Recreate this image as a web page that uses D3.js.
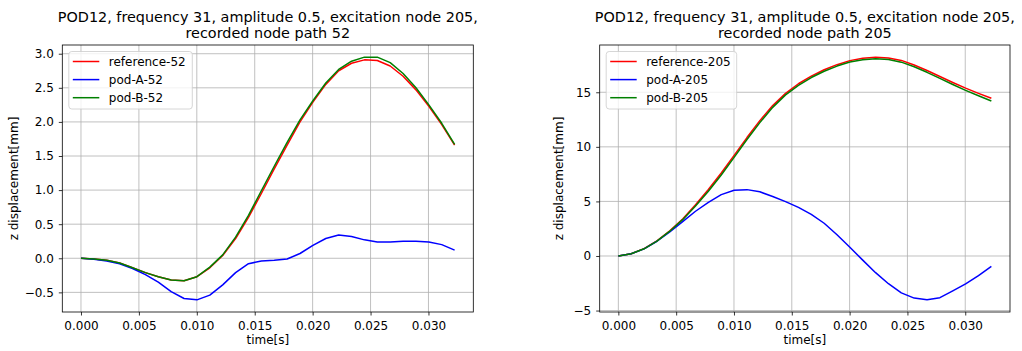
<!DOCTYPE html>
<html>
<head>
<meta charset="utf-8">
<script src="https://cdn.jsdelivr.net/npm/d3@7"></script>
<style>
  body { margin: 0; background: #fff; }
  svg { display: block; font-family: "DejaVu Sans", sans-serif; }
</style>
</head>
<body>
<div id="chart"></div>
<script>
// time samples (s)
var timeS = [0, 0.001112, 0.002225, 0.003337, 0.004449, 0.005562, 0.006674, 0.007786, 0.008899, 0.010011,
  0.011123, 0.012236, 0.013348, 0.014461, 0.015573, 0.016685, 0.017798, 0.018910, 0.020022, 0.021135,
  0.022247, 0.023359, 0.024472, 0.025584, 0.026696, 0.027809, 0.028921, 0.030033, 0.031146, 0.032258];

// node 52
var ref52 = [0, -0.01, -0.03, -0.07, -0.14, -0.21, -0.27, -0.32, -0.33, -0.27, -0.14, 0.04, 0.29, 0.60, 0.95, 1.31,
  1.66, 2.0, 2.29, 2.55, 2.75, 2.86, 2.91, 2.90, 2.82, 2.67, 2.47, 2.23, 1.96, 1.66];
var podA52 = [0, -0.015, -0.04, -0.08, -0.15, -0.24, -0.35, -0.49, -0.59, -0.61, -0.54, -0.39, -0.21, -0.08, -0.04,
  -0.03, -0.01, 0.07, 0.19, 0.29, 0.34, 0.32, 0.27, 0.24, 0.24, 0.25, 0.25, 0.24, 0.20, 0.12];
var podB52 = [0, -0.01, -0.03, -0.07, -0.14, -0.21, -0.27, -0.32, -0.33, -0.27, -0.13, 0.05, 0.31, 0.63, 0.99, 1.35,
  1.70, 2.03, 2.31, 2.57, 2.77, 2.89, 2.95, 2.95, 2.87, 2.71, 2.50, 2.25, 1.98, 1.67];

// node 205
var ref205 = [0, 0.2, 0.67, 1.38, 2.3, 3.38, 4.7, 6.1, 7.6, 9.22, 10.85, 12.4, 13.78, 14.9, 15.78, 16.48,
  17.06, 17.53, 17.9, 18.12, 18.22, 18.15, 17.92, 17.5, 17.0, 16.45, 15.9, 15.38, 14.9, 14.45];
var podA205 = [0, 0.2, 0.65, 1.35, 2.2, 3.15, 4.1, 4.92, 5.62, 6.02, 6.08, 5.88, 5.45, 4.98, 4.45, 3.82,
  3.0, 1.95, 0.8, -0.38, -1.53, -2.54, -3.38, -3.86, -4.02, -3.82, -3.2, -2.56, -1.8, -0.95];
var podB205 = [0, 0.2, 0.66, 1.36, 2.27, 3.33, 4.58, 5.94, 7.42, 9.04, 10.67, 12.22, 13.62, 14.76, 15.64, 16.35,
  16.93, 17.4, 17.77, 17.99, 18.08, 18.0, 17.76, 17.34, 16.83, 16.27, 15.71, 15.18, 14.68, 14.2];

var xTicks = [0, 0.005, 0.010, 0.015, 0.020, 0.025, 0.030];
var yTicks52 = [-0.5, 0, 0.5, 1.0, 1.5, 2.0, 2.5, 3.0];
var yTicks205 = [-5, 0, 5, 10, 15];

var W = 1022, H = 351;
var svg = d3.select("#chart").append("svg").attr("width", W).attr("height", H);

/* ---------------------------------------------------------------*/
function pad(ext) {
  var r = ext[1] - ext[0];
  return [ext[0] - 0.05 * r, ext[1] + 0.05 * r];
}

/* ---------------------------------------------------------------*/
function drawPanel(cfg) {
  var g = svg.append("g").attr("transform", "translate(" + cfg.left + "," + cfg.top + ")");
  var w = cfg.width, h = cfg.height;

  var all = [].concat(cfg.series[0].values, cfg.series[1].values, cfg.series[2].values);
  var x = d3.scaleLinear().domain(pad(d3.extent(timeS))).range([0, w]);
  var y = d3.scaleLinear().domain(pad(d3.extent(all))).range([h, 0]);

  // grid
  g.append("g").selectAll("line").data(xTicks).join("line")
    .attr("x1", d => x(d)).attr("x2", d => x(d)).attr("y1", 0).attr("y2", h)
    .attr("stroke", "#b0b0b0").attr("stroke-width", 0.8);
  g.append("g").selectAll("line").data(cfg.yTicks).join("line")
    .attr("x1", 0).attr("x2", w).attr("y1", d => y(d)).attr("y2", d => y(d))
    .attr("stroke", "#b0b0b0").attr("stroke-width", 0.8);

  var line = d3.line().x((d, i) => x(timeS[i])).y(d => y(d));
  cfg.series.forEach(function(s) {
    g.append("path").datum(s.values).attr("d", line)
      .attr("fill", "none").attr("stroke", s.color).attr("stroke-width", 1.5)
      .attr("stroke-linejoin", "round");
  });

  // frame
  g.append("rect").attr("x", 0).attr("y", 0).attr("width", w).attr("height", h)
    .attr("fill", "none").attr("stroke", "#000").attr("stroke-width", 0.8);

  var xAxis = g.append("g").attr("transform", "translate(0," + h + ")")
    .call(d3.axisBottom(x).tickValues(xTicks).tickFormat(d3.format(".3f")).tickSize(3.5).tickPadding(5.5));
  var yAxis = g.append("g")
    .call(d3.axisLeft(y).tickValues(cfg.yTicks).tickFormat(cfg.yFormat).tickSize(3.5).tickPadding(5));
  [xAxis, yAxis].forEach(function(a) {
    a.select(".domain").remove();
    a.selectAll("line").attr("stroke", "#000").attr("stroke-width", 0.8);
    a.selectAll("text").attr("font-family", "DejaVu Sans").attr("font-size", 12).attr("fill", "#000");
  });

  // labels
  g.append("text").attr("x", w / 2).attr("y", h + 32).attr("text-anchor", "middle")
    .attr("font-size", 12).text("time[s]");
  g.append("text").attr("transform", "translate(" + cfg.yLabelX + "," + (h / 2) + ") rotate(-90)")
    .attr("text-anchor", "middle").attr("font-size", 12).text("z displacement[mm]");
  cfg.title.forEach(function(t, i) {
    g.append("text").attr("x", w / 2).attr("y", -23 + i * 15.7).attr("text-anchor", "middle")
      .attr("font-size", 14.4).text(t);
  });

  // legend
  var lg = g.append("g").attr("transform", "translate(6.5,6.5)");
  lg.append("rect").attr("width", cfg.legendW).attr("height", 57.5).attr("rx", 3)
    .attr("fill", "#fff").attr("fill-opacity", 0.8).attr("stroke", "#cccccc").attr("stroke-width", 0.8);
  cfg.series.forEach(function(s, i) {
    var yy = 10 + i * 18.1;
    lg.append("line").attr("x1", 4).attr("x2", 30.5).attr("y1", yy).attr("y2", yy)
      .attr("stroke", s.color).attr("stroke-width", 1.5);
    lg.append("text").attr("x", 40).attr("y", yy + 4.3).attr("font-size", 12).text(s.name);
  });
}

var fmt1 = function(d) { return d3.format(".1f")(d); };
var fmt0 = function(d) { return d3.format("d")(d); };

drawPanel({
  left: 62.3, top: 45, width: 411, height: 267,
  yTicks: yTicks52, yFormat: fmt1, yLabelX: -44.5, legendW: 123.5,
  title: ["POD12, frequency 31, amplitude 0.5, excitation node 205,", "recorded node path 52"],
  series: [
    { name: "reference-52", color: "#ff0000", values: ref52 },
    { name: "pod-A-52", color: "#0000ff", values: podA52 },
    { name: "pod-B-52", color: "#008000", values: podB52 }
  ]
});

drawPanel({
  left: 599.7, top: 45, width: 410.3, height: 267,
  yTicks: yTicks205, yFormat: fmt0, yLabelX: -36.5, legendW: 130.5,
  title: ["POD12, frequency 31, amplitude 0.5, excitation node 205,", "recorded node path 205"],
  series: [
    { name: "reference-205", color: "#ff0000", values: ref205 },
    { name: "pod-A-205", color: "#0000ff", values: podA205 },
    { name: "pod-B-205", color: "#008000", values: podB205 }
  ]
});
</script>
</body>
</html>
